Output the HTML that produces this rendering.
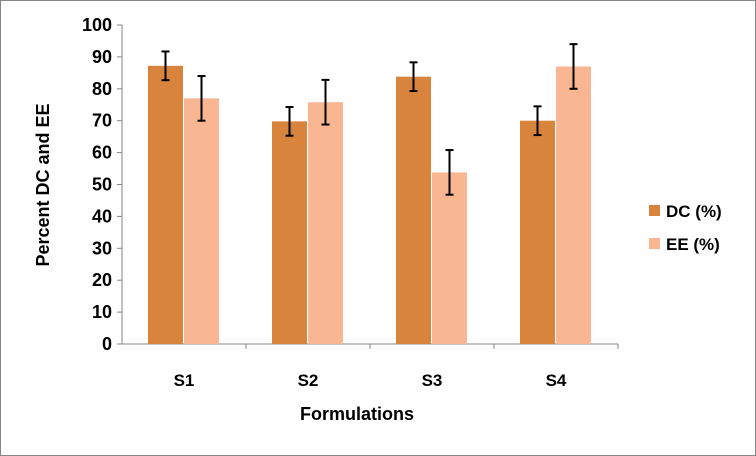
<!DOCTYPE html>
<html><head><meta charset="utf-8"><style>
html,body{margin:0;padding:0;background:#fff}
svg{display:block;font-family:"Liberation Sans",Arial,sans-serif;font-weight:bold}
</style></head><body>
<svg width="756" height="456" viewBox="0 0 756 456">
<rect x="0.5" y="0.5" width="755" height="455" fill="#fff" stroke="#868686"/>
<g id="axes"></g><g id="bars"></g>
<text x="300" y="420" font-size="18">Formulations</text>
<text transform="translate(49,185) rotate(-90)" text-anchor="middle" font-size="18">Percent DC and EE</text>
<g>
<rect x="649" y="205" width="11" height="11" fill="#D9843D"/>
<text x="666" y="217" font-size="17">DC (%)</text>
<rect x="649" y="238" width="11" height="11" fill="#F9B692"/>
<text x="666" y="250" font-size="17">EE (%)</text>
</g>
</svg>
<script>
const categories=["S1","S2","S3","S4"];
const dcValues=[87.2,69.8,83.8,70];
const eeValues=[77,75.8,53.8,87];
const dcErr=[4.5,4.5,4.5,4.5];
const eeErr=[7,7,7,7];
const yTicks=[0,10,20,30,40,50,60,70,80,90,100];
const NS="http://www.w3.org/2000/svg";
const x0=122,cw=124,y0=344,yTop=25;
function y(v){return y0-(v/100)*(y0-yTop);}
function mk(t,a,p){const e=document.createElementNS(NS,t);for(const k in a)e.setAttribute(k,a[k]);p.appendChild(e);return e;}
const ax=document.getElementById('axes'),bg=document.getElementById('bars');
let l=mk('line',{x1:x0,y1:yTop,x2:x0,y2:y0,stroke:'#868686'},ax);


l=mk('line',{x1:x0,y1:y0,x2:x0+cw*categories.length,y2:y0,stroke:'#868686'},ax);


yTicks.forEach(v=>{
 mk('line',{x1:x0-5,y1:y(v),x2:x0,y2:y(v),stroke:'#868686'},ax);
 const t=mk('text',{x:x0-10,y:y(v)+6,'text-anchor':'end','font-size':18},ax);t.textContent=v;
 
 
});
categories.forEach((c,i)=>{
 mk('line',{x1:x0+cw*(i+1),y1:y0,x2:x0+cw*(i+1),y2:y0+5,stroke:'#868686'},ax);
 const cx=x0+cw*i+cw/2;
 const t=mk('text',{x:cx,y:386,'text-anchor':'middle','font-size':17},ax);t.textContent=c;
 
 
 [[dcValues,dcErr,'#D9843D',-36,'dc'],[eeValues,eeErr,'#F9B692',0,'ee']].forEach(([vals,err,col,off,n])=>{
  const r=mk('rect',{x:cx+off,y:y(vals[i]),width:35,height:y0-y(vals[i]),fill:col},bg);
  
  
  const ex=cx+off+17.5,hi=y(vals[i]+err[i]),lo=y(vals[i]-err[i]);
  const g=mk('g',{stroke:'#000','stroke-width':2},bg);
  
  
  mk('line',{x1:ex,y1:hi,x2:ex,y2:lo},g);
  mk('line',{x1:ex-4,y1:hi,x2:ex+4,y2:hi},g);
  mk('line',{x1:ex-4,y1:lo,x2:ex+4,y2:lo},g);
 });
});
</script>
</body></html>
